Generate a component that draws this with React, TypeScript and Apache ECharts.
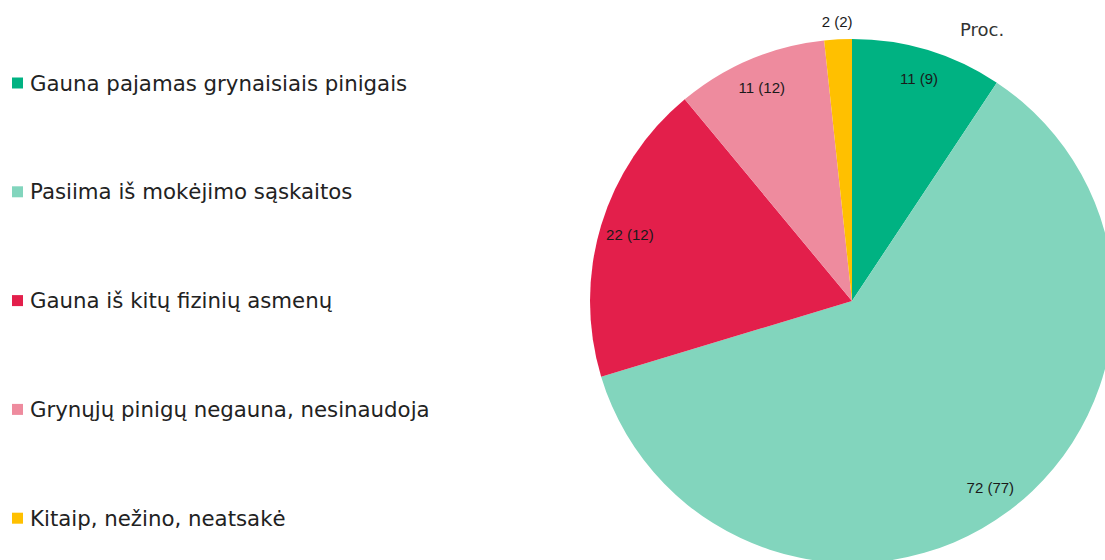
import React, { useEffect, useRef } from "react";
import * as echarts from "echarts";

const categories = [
  "Gauna pajamas grynaisiais pinigais",
  "Pasiima iš mokėjimo sąskaitos",
  "Gauna iš kitų fizinių asmenų",
  "Grynųjų pinigų negauna, nesinaudoja",
  "Kitaip, nežino, neatsakė",
];
const currentValues = [11, 72, 22, 11, 2];
const previousValues = [9, 77, 12, 12, 2];
const outsideLabel = [false, false, false, false, true];
const colors = ["#00b282", "#82d5bd", "#e31f4b", "#ee8b9e", "#ffc000"];
const unitLabel = "Proc.";

export default function App() {
  const ref = useRef<HTMLDivElement>(null);
  useEffect(() => {
    if (!ref.current) return;
    const chart = echarts.init(ref.current, null, { renderer: "svg" });
    const labelFont = "'Liberation Sans Narrow', 'Liberation Sans', Arial, sans-serif";
    const fmt = (p: any) => `${currentValues[p.dataIndex]} (${previousValues[p.dataIndex]})`;
    const baseData = categories.map((name, i) => ({
      name,
      value: currentValues[i],
      itemStyle: { color: colors[i] },
    }));
    const labelData = (outside: boolean) =>
      categories.map((name, i) => ({
        name,
        value: currentValues[i],
        itemStyle: { color: "rgba(0,0,0,0)" },
        label: { show: outsideLabel[i] === outside },
      }));
    const labelStyle = {
      show: true,
      position: "inside" as const,
      fontFamily: labelFont,
      fontSize: 15,
      color: "#1a1a1a",
      formatter: fmt,
    };
    chart.setOption({
      animation: false,
      title: {
        text: unitLabel,
        left: 960,
        top: 20,
        padding: 0,
        textStyle: {
          fontFamily: "'DejaVu Sans', Verdana, sans-serif",
          fontSize: 18,
          fontWeight: "normal",
          color: "#333",
        },
      },
      legend: {
        orient: "vertical",
        left: 12,
        top: 71,
        padding: 0,
        itemWidth: 11,
        itemHeight: 11,
        itemGap: 84.8,
        icon: "rect",
        selectedMode: false,
        data: categories,
        textStyle: {
          fontFamily: "'DejaVu Sans', Verdana, sans-serif",
          fontSize: 21.3,
          lineHeight: 24,
          color: "#222",
          padding: [0, 0, 0, 2],
        },
      },
      series: [
        {
          type: "pie",
          center: [852, 301],
          radius: [0, 262],
          startAngle: 90,
          clockwise: true,
          label: { show: false },
          labelLine: { show: false },
          silent: true,
          data: baseData,
        },
        {
          type: "pie",
          center: [852, 301],
          radius: [196, 262],
          startAngle: 90,
          clockwise: true,
          silent: true,
          legendHoverLink: false,
          label: labelStyle,
          labelLine: { show: false },
          data: labelData(false),
        },
        {
          type: "pie",
          center: [852, 301],
          radius: [262, 292],
          startAngle: 90,
          clockwise: true,
          silent: true,
          legendHoverLink: false,
          label: labelStyle,
          labelLine: { show: false },
          data: labelData(true),
        },
      ],
    });
    return () => chart.dispose();
  }, []);
  return (
    <div
      ref={ref}
      style={{ position: "fixed", left: 0, top: 0, width: 1105, height: 560, background: "#fff" }}
    />
  );
}
